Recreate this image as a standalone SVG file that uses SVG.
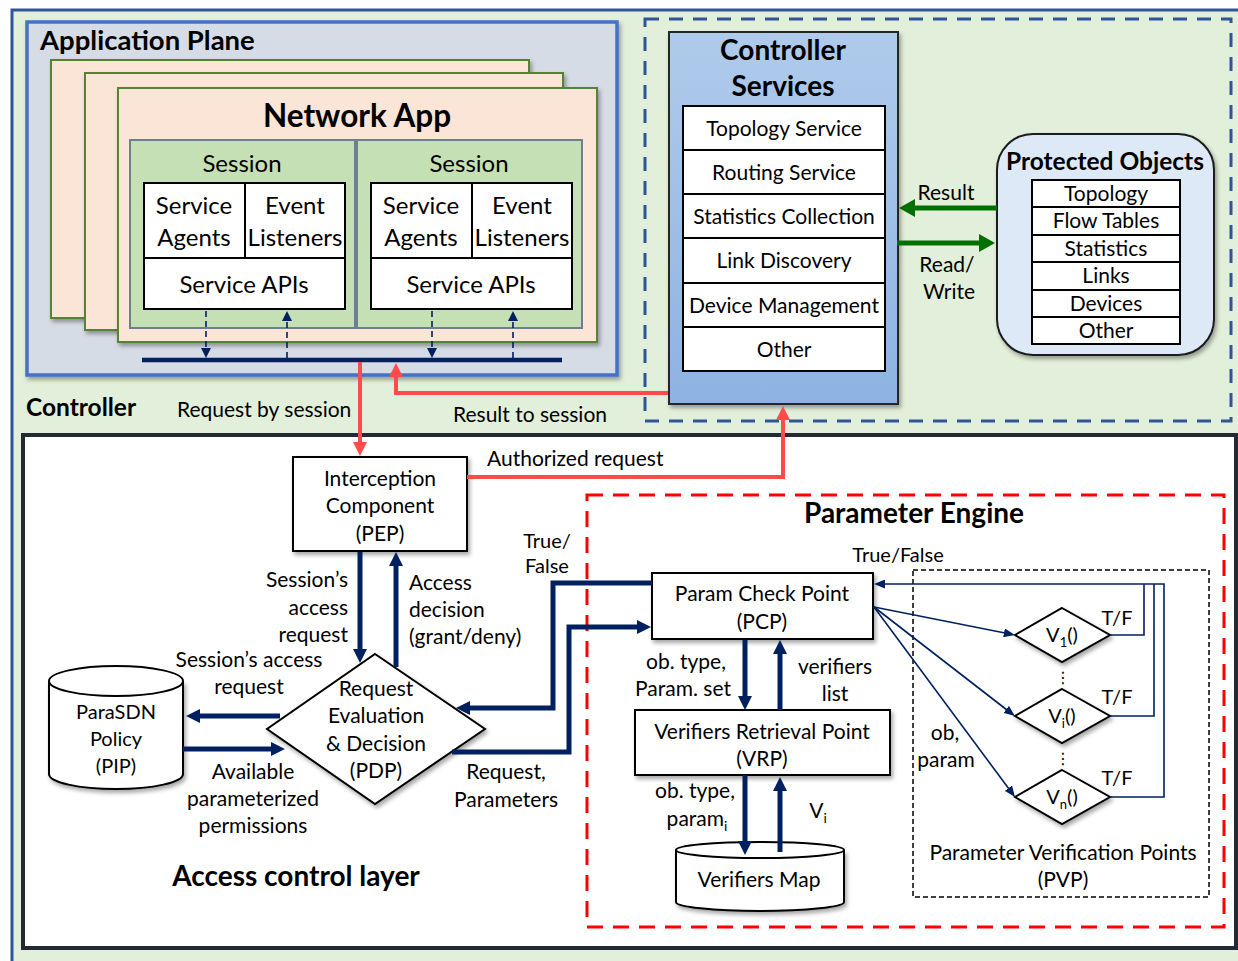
<svg xmlns="http://www.w3.org/2000/svg" width="1238" height="961" viewBox="0 0 1238 961">
<defs>
<style>
text{font-family:Lato,"Liberation Sans",sans-serif;fill:#000}
.b{font-weight:bold}
.c{text-anchor:middle}
.e{text-anchor:end}
.n{font-size:21px}
.m{font-size:20px}
.l{font-size:24px}
.box{fill:#fff;stroke:#000;stroke-width:2}
.navy{stroke:#002060;stroke-width:5;fill:none}
.thin{stroke:#002060;stroke-width:1.6;fill:none}
.red{stroke:#ff4b4b;stroke-width:4;fill:none}
.green{stroke:#007000;stroke-width:5;fill:none}
.dash{stroke:#002060;stroke-width:1.6;stroke-dasharray:6,4;fill:none}
.page{fill:#fbe5d6;stroke:#548235;stroke-width:2}
.sess{fill:#c5e0b4;stroke:#6f7f8f;stroke-width:2}
.dia{fill:#fff;stroke:#000;stroke-width:2}
</style>
<filter id="sh" x="-10%" y="-10%" width="130%" height="130%">
<feDropShadow dx="2" dy="3" stdDeviation="2" flood-color="#000" flood-opacity="0.35"/>
</filter>
<linearGradient id="cs" x1="0" y1="0" x2="0" y2="1">
<stop offset="0" stop-color="#afcbeb"/>
<stop offset="1" stop-color="#8db3e2"/>
</linearGradient>
<marker id="mN" markerUnits="userSpaceOnUse" markerWidth="14" markerHeight="14" refX="2" refY="7" orient="auto"><path d="M0,0 L14,7 L0,14 z" fill="#002060"/></marker>
<marker id="mR" markerUnits="userSpaceOnUse" markerWidth="14" markerHeight="14" refX="2" refY="7" orient="auto"><path d="M0,0 L14,7 L0,14 z" fill="#ff4b4b"/></marker>
<marker id="mG" markerUnits="userSpaceOnUse" markerWidth="16" markerHeight="18" refX="2" refY="9" orient="auto"><path d="M0,0 L16,9 L0,18 z" fill="#007000"/></marker>
<marker id="mT" markerUnits="userSpaceOnUse" markerWidth="11" markerHeight="9" refX="1" refY="4.5" orient="auto"><path d="M0,0 L11,4.5 L0,9 z" fill="#002060"/></marker>
<marker id="mD" markerUnits="userSpaceOnUse" markerWidth="10" markerHeight="10" refX="1" refY="5" orient="auto"><path d="M0,0 L10,5 L0,10 z" fill="#002060"/></marker>
</defs>

<!-- outer controller frame -->
<rect x="12" y="10" width="1230" height="960" fill="#e2efda" stroke="#2f5597" stroke-width="3"/>

<g id="application-plane">
<rect x="27" y="22" width="590" height="353" fill="#d6dce5" stroke="#4472c4" stroke-width="3.5" filter="url(#sh)"/>
<text x="40" y="50" class="b" font-size="27.5">Application Plane</text>
<rect x="51" y="60" width="478" height="258" class="page" filter="url(#sh)"/>
<rect x="85" y="73" width="478" height="257" class="page" filter="url(#sh)"/>
<rect x="118" y="88" width="479" height="254" class="page" filter="url(#sh)"/>
<text x="357" y="127" class="b c" font-size="31.5">Network App</text>
</g>

<g id="session-1">
<rect x="130" y="140" width="225" height="188" class="sess"/>
<text x="242" y="172" class="c l">Session</text>
<rect x="144" y="183" width="201" height="126" class="box"/>
<line x1="144" y1="258" x2="345" y2="258" stroke="#000" stroke-width="2"/>
<line x1="245" y1="183" x2="245" y2="258" stroke="#000" stroke-width="2"/>
<text x="194" y="214" class="c l">Service</text>
<text x="194" y="246" class="c l">Agents</text>
<text x="295" y="214" class="c l">Event</text>
<text x="295" y="246" class="c l">Listeners</text>
<text x="244" y="293" class="c l">Service APIs</text>
</g>

<g id="session-2">
<rect x="357" y="140" width="225" height="188" class="sess"/>
<text x="469" y="172" class="c l">Session</text>
<rect x="371" y="183" width="201" height="126" class="box"/>
<line x1="371" y1="258" x2="572" y2="258" stroke="#000" stroke-width="2"/>
<line x1="472" y1="183" x2="472" y2="258" stroke="#000" stroke-width="2"/>
<text x="421" y="214" class="c l">Service</text>
<text x="421" y="246" class="c l">Agents</text>
<text x="522" y="214" class="c l">Event</text>
<text x="522" y="246" class="c l">Listeners</text>
<text x="471" y="293" class="c l">Service APIs</text>
</g>

<g id="bus">
<line x1="142" y1="360" x2="562" y2="360" stroke="#002060" stroke-width="4.5"/>
</g>

<text x="26" y="416" class="b" font-size="24.5">Controller</text>

<g id="controller-region">
<rect x="645" y="19" width="586" height="402" fill="none" stroke="#2f5597" stroke-width="3" stroke-dasharray="14,10"/>
</g>

<g id="controller-services">
<rect x="669" y="32" width="229" height="372" fill="url(#cs)" stroke="#262626" stroke-width="2" filter="url(#sh)"/>
<text x="783" y="60" class="b c" font-size="28">Controller</text>
<text x="783" y="96" class="b c" font-size="28">Services</text>
<rect x="683" y="106" width="202" height="44" class="box"/>
<rect x="683" y="150" width="202" height="44" class="box"/>
<rect x="683" y="194" width="202" height="44" class="box"/>
<rect x="683" y="238" width="202" height="45" class="box"/>
<rect x="683" y="283" width="202" height="44" class="box"/>
<rect x="683" y="327" width="202" height="44" class="box"/>
<text x="784" y="136" class="c n">Topology Service</text>
<text x="784" y="180" class="c n">Routing Service</text>
<text x="784" y="224" class="c n">Statistics Collection</text>
<text x="784" y="268" class="c n">Link Discovery</text>
<text x="784" y="313" class="c n">Device Management</text>
<text x="784" y="357" class="c n">Other</text>
</g>

<g id="protected-objects">
<rect x="997" y="134" width="217" height="221" rx="36" ry="36" fill="#dde9f6" stroke="#1a1a1a" stroke-width="2" filter="url(#sh)"/>
<text x="1105" y="170" class="b c" font-size="24.5">Protected Objects</text>
<rect x="1032" y="180" width="148" height="27" class="box"/>
<rect x="1032" y="207" width="148" height="28" class="box"/>
<rect x="1032" y="235" width="148" height="27" class="box"/>
<rect x="1032" y="262" width="148" height="28" class="box"/>
<rect x="1032" y="290" width="148" height="27" class="box"/>
<rect x="1032" y="317" width="148" height="27" class="box"/>
<text x="1106" y="201" class="c n">Topology</text>
<text x="1106" y="228" class="c n">Flow Tables</text>
<text x="1106" y="256" class="c n">Statistics</text>
<text x="1106" y="283" class="c n">Links</text>
<text x="1106" y="311" class="c n">Devices</text>
<text x="1106" y="338" class="c n">Other</text>
</g>

<g id="access-control-layer">
<rect x="23" y="435" width="1213" height="513" fill="#fff" stroke="#222a35" stroke-width="4"/>
<text x="296" y="886" class="b c" font-size="28">Access control layer</text>
</g>

<g id="parameter-engine">
<rect x="587" y="495" width="637" height="432" fill="none" stroke="#ff0000" stroke-width="3" stroke-dasharray="16,10"/>
<text x="914" y="523" class="b c" font-size="28">Parameter Engine</text>
</g>

<g id="pvp">
<rect x="913" y="570" width="296" height="327" fill="none" stroke="#000" stroke-width="1.5" stroke-dasharray="5,3"/>
<text x="1063" y="860" class="c n">Parameter Verification Points</text>
<text x="1063" y="887" class="c n">(PVP)</text>
</g>

<g id="pep">
<rect x="293" y="457" width="174" height="94" class="box" filter="url(#sh)"/>
<text x="380" y="486" class="c n">Interception</text>
<text x="380" y="513" class="c n">Component</text>
<text x="380" y="541" class="c n">(PEP)</text>
</g>

<g id="pdp">
<polygon points="375,654 485,729 375,804 267,729" class="dia" filter="url(#sh)"/>
<text x="376" y="696" class="c n">Request</text>
<text x="376" y="723" class="c n">Evaluation</text>
<text x="376" y="751" class="c n">&amp; Decision</text>
<text x="376" y="778" class="c n">(PDP)</text>
</g>

<g id="pip">
<path d="M49,681 V774 A67,15 0 0 0 183,774 V681" fill="#fff" stroke="#000" stroke-width="2" filter="url(#sh)"/>
<ellipse cx="116" cy="681" rx="67" ry="15" fill="#fff" stroke="#000" stroke-width="2"/>
<text x="116" y="719" class="c m">ParaSDN</text>
<text x="116" y="746" class="c m">Policy</text>
<text x="116" y="773" class="c m">(PIP)</text>
</g>

<g id="pcp">
<rect x="652" y="573" width="221" height="66" class="box" filter="url(#sh)"/>
<text x="762" y="601" class="c n">Param Check Point</text>
<text x="762" y="629" class="c n">(PCP)</text>
</g>

<g id="vrp">
<rect x="635" y="710" width="255" height="65" class="box" filter="url(#sh)"/>
<text x="762" y="739" class="c n">Verifiers Retrieval Point</text>
<text x="762" y="766" class="c n">(VRP)</text>
</g>

<g id="verifiers-map">
<path d="M676,850 V902 A84,9 0 0 0 844,902 V850" fill="#fff" stroke="#000" stroke-width="2" filter="url(#sh)"/>
<ellipse cx="760" cy="850" rx="84" ry="8" fill="#fff" stroke="#000" stroke-width="2"/>
<text x="759" y="887" class="c n">Verifiers Map</text>
</g>

<g id="v1">
<polygon points="1062,608 1110,635 1062,662 1015,635" class="dia" filter="url(#sh)"/>
<text x="1062" y="642" class="c m">V<tspan font-size="13" dy="5">1</tspan><tspan dy="-5">()</tspan></text>
</g>
<g id="vi">
<polygon points="1062,689 1110,716 1062,743 1015,716" class="dia" filter="url(#sh)"/>
<text x="1062" y="723" class="c m">V<tspan font-size="13" dy="5">i</tspan><tspan dy="-5">()</tspan></text>
</g>
<g id="vn">
<polygon points="1062,770 1110,797 1062,824 1015,797" class="dia" filter="url(#sh)"/>
<text x="1062" y="804" class="c m">V<tspan font-size="13" dy="5">n</tspan><tspan dy="-5">()</tspan></text>
</g>
<text x="1063" y="683" class="c" font-size="16" style="font-family:'DejaVu Sans',sans-serif">⋮</text>
<text x="1063" y="764" class="c" font-size="16" style="font-family:'DejaVu Sans',sans-serif">⋮</text>

<g id="connectors">
<line x1="206" y1="311" x2="206" y2="349" class="dash" marker-end="url(#mD)"/>
<line x1="287" y1="358" x2="287" y2="320" class="dash" marker-end="url(#mD)"/>
<line x1="432" y1="311" x2="432" y2="349" class="dash" marker-end="url(#mD)"/>
<line x1="513" y1="358" x2="513" y2="320" class="dash" marker-end="url(#mD)"/>
<path d="M360,362 V444" class="red" marker-end="url(#mR)"/>
<path d="M668,393 H396 V375" class="red" marker-end="url(#mR)"/>
<path d="M467,477 H783 V418" class="red" marker-end="url(#mR)"/>
<path d="M997,208 H913" class="green" marker-end="url(#mG)"/>
<path d="M897,243 H981" class="green" marker-end="url(#mG)"/>
<path d="M360,552 V651" class="navy" marker-end="url(#mN)"/>
<path d="M396,667 V564" class="navy" marker-end="url(#mN)"/>
<path d="M280,716 H198" class="navy" marker-end="url(#mN)"/>
<path d="M183,749 H273" class="navy" marker-end="url(#mN)"/>
<path d="M652,583 H553 V708 H468" class="navy" marker-end="url(#mN)"/>
<path d="M452,752 H569 V627 H639" class="navy" marker-end="url(#mN)"/>
<path d="M745,640 V698" class="navy" marker-end="url(#mN)"/>
<path d="M780,710 V652" class="navy" marker-end="url(#mN)"/>
<path d="M745,775 V843" class="navy" marker-end="url(#mN)"/>
<path d="M780,852 V789" class="navy" marker-end="url(#mN)"/>
<line x1="874" y1="607" x2="1005" y2="633" class="thin" marker-end="url(#mT)"/>
<line x1="874" y1="607" x2="1007" y2="710" class="thin" marker-end="url(#mT)"/>
<line x1="874" y1="607" x2="1009" y2="789" class="thin" marker-end="url(#mT)"/>
<path d="M1110,635 H1144 V584" class="thin"/>
<path d="M1110,716 H1154 V584" class="thin"/>
<path d="M1110,797 H1164 V584 H884" class="thin" marker-end="url(#mT)"/>
</g>

<g id="labels">
<text x="177" y="417" class="n">Request by session</text>
<text x="453" y="422" class="n">Result to session</text>
<text x="487" y="466" class="n">Authorized request</text>
<text x="946" y="200" class="c n">Result</text>
<text x="947" y="272" class="c n">Read/</text>
<text x="949" y="299" class="c n">Write</text>
<text x="348" y="587" class="e n">Session’s</text>
<text x="348" y="615" class="e n">access</text>
<text x="348" y="642" class="e n">request</text>
<text x="409" y="590" class="n">Access</text>
<text x="409" y="617" class="n">decision</text>
<text x="409" y="644" class="n">(grant/deny)</text>
<text x="547" y="548" class="c m">True/</text>
<text x="547" y="573" class="c m">False</text>
<text x="249" y="667" class="c n">Session’s access</text>
<text x="249" y="694" class="c n">request</text>
<text x="253" y="779" class="c n">Available</text>
<text x="253" y="806" class="c n">parameterized</text>
<text x="253" y="833" class="c n">permissions</text>
<text x="506" y="779" class="c n">Request,</text>
<text x="506" y="807" class="c n">Parameters</text>
<text x="898" y="562" class="c m">True/False</text>
<text x="686" y="669" class="c n">ob. type,</text>
<text x="683" y="696" class="c n">Param. set</text>
<text x="835" y="674" class="c n">verifiers</text>
<text x="835" y="701" class="c n">list</text>
<text x="695" y="798" class="c n">ob. type,</text>
<text x="697" y="826" class="c n">param<tspan font-size="14" dy="5">i</tspan></text>
<text x="818" y="818" class="c n">V<tspan font-size="14" dy="5">i</tspan></text>
<text x="945" y="740" class="c n">ob,</text>
<text x="946" y="767" class="c n">param</text>
<text x="1117" y="625" class="c m">T/F</text>
<text x="1117" y="704" class="c m">T/F</text>
<text x="1117" y="785" class="c m">T/F</text>
</g>
</svg>
